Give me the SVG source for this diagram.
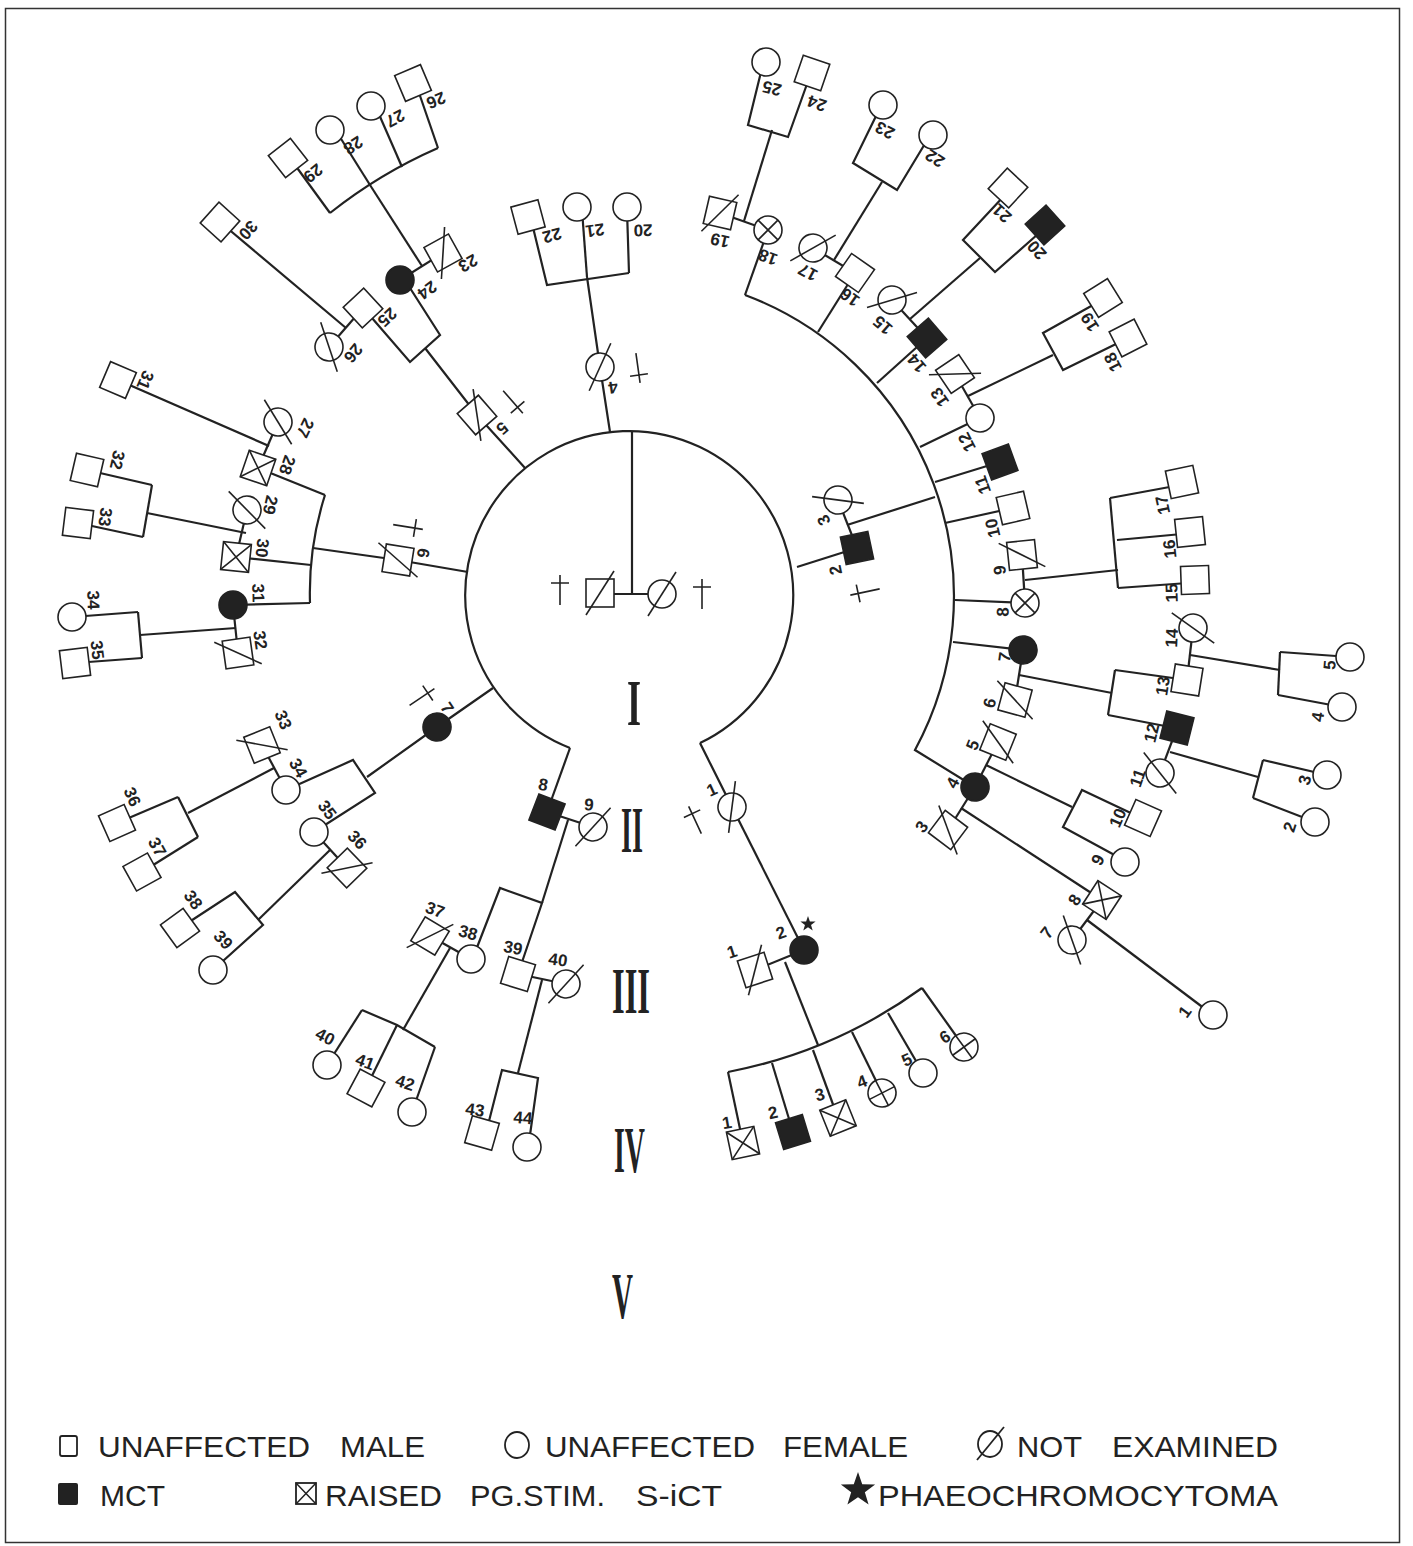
<svg xmlns="http://www.w3.org/2000/svg" xmlns:xlink="http://www.w3.org/1999/xlink" width="1413" height="1546" viewBox="0 0 1413 1546">
<style>
.o{fill:#fff;stroke:#222;stroke-width:1.6}
.f{fill:#222;stroke:#222;stroke-width:1.6}
.m{fill:none;stroke:#222;stroke-width:1.6}
.d{fill:none;stroke:#222;stroke-width:2.2}
.lb{font-family:"Liberation Sans",Arial,sans-serif;font-weight:bold;font-size:17px;fill:#222;text-anchor:middle;dominant-baseline:central}
.rn{font-family:"Liberation Serif","Times New Roman",serif;font-weight:bold;font-size:66px;fill:#222}
.lg{font-family:"Liberation Sans",Arial,sans-serif;font-size:30px;fill:#222}
#connectors path{fill:none;stroke:#222;stroke-width:2.2}
</style>
<defs>
<rect id="sq" x="-14" y="-14" width="28" height="28"/>
<circle id="ci" r="14"/>
<line id="sl" x1="-14" y1="22" x2="14" y2="-22"/>
<path id="sx" d="M-14,-14 L14,14 M14,-14 L-14,14"/>
<path id="cp" d="M-14,0 H14 M0,-14 V14"/>
<path id="dg" d="M0,-15 V15 M-9,-7 H9"/>
<polygon id="star" points="0,-1 0.235,-0.324 0.951,-0.309 0.38,0.124 0.588,0.809 0,0.4 -0.588,0.809 -0.38,0.124 -0.951,-0.309 -0.235,-0.324"/>
</defs>
<rect x="0" y="0" width="1413" height="1546" fill="#fff"/>
<rect x="5.5" y="8.5" width="1394" height="1534" fill="none" stroke="#333" stroke-width="1.5"/>

<g id="connectors">
<path d="M600,594 H662"/>
<path d="M632,594 V432"/>
<path d="M570,748 A164,164 0 1 1 700,743"/>
<path d="M570,748 L547,812"/>
<path d="M700,743 L732,807"/>
<path d="M797,567 L857,548"/>
<path d="M838,500 L857,548"/>
<path d="M847,525 L935,497"/>
<path d="M745,295 A322,322 0 0 1 915,750 L975,787"/>
<path d="M745,295 L768,230"/>
<path d="M818,332 L855,273"/>
<path d="M877,383 L927,338"/>
<path d="M920,447 L980,418"/>
<path d="M935,482 L1000,462"/>
<path d="M945,523 L1013,508"/>
<path d="M955,600 L1025,603"/>
<path d="M953,642 L1023,650"/>
<path d="M720,213 L768,230"/>
<path d="M813,248 L855,273"/>
<path d="M892,300 L927,338"/>
<path d="M955,374 L980,418"/>
<path d="M1022,555 L1025,603"/>
<path d="M1023,650 L1015,700"/>
<path d="M998,742 L975,787"/>
<path d="M975,787 L948,830"/>
<path d="M744,221 L772,130"/>
<path d="M761,72 L748,125 L788,137 L807,84"/>
<path d="M834,260 L882,182"/>
<path d="M878,112 L853,163 L897,190 L926,142"/>
<path d="M910,319 L980,258"/>
<path d="M1004,196 L963,240 L995,272 L1038,234"/>
<path d="M968,396 L1053,355"/>
<path d="M1093,305 L1043,333 L1063,370 L1118,343"/>
<path d="M1025,580 L1118,570"/>
<path d="M1110,498 L1118,588"/>
<path d="M1110,498 L1175,486"/>
<path d="M1117,540 L1182,534"/>
<path d="M1118,588 L1188,583"/>
<path d="M1019,675 L1112,693"/>
<path d="M1115,670 L1108,715"/>
<path d="M1115,670 L1180,679"/>
<path d="M1108,715 L1170,727"/>
<path d="M986,765 L1072,807"/>
<path d="M1135,815 L1082,790 L1063,827 L1120,858"/>
<path d="M961,808 L1102,900"/>
<path d="M1102,900 L1072,940"/>
<path d="M1087,920 L1213,1015"/>
<path d="M1193,628 L1187,680"/>
<path d="M1190,655 L1280,670"/>
<path d="M1280,652 L1278,695"/>
<path d="M1280,652 L1350,657"/>
<path d="M1278,695 L1342,707"/>
<path d="M1177,728 L1160,773"/>
<path d="M1170,752 L1258,777"/>
<path d="M1263,760 L1253,798"/>
<path d="M1263,760 L1327,775"/>
<path d="M1253,798 L1315,822"/>
<path d="M610,432 L600,367 L587,277"/>
<path d="M530,215 L547,285 L629,273"/>
<path d="M582,210 L587,277"/>
<path d="M627,210 L629,273"/>
<path d="M525,468 L477,415 L425,348"/>
<path d="M410,288 L440,335 L410,362 L372,318"/>
<path d="M400,280 L443,253"/>
<path d="M422,266 L370,185"/>
<path d="M330,213 A488,488 0 0 1 438,148"/>
<path d="M295,165 L330,213"/>
<path d="M338,134 L370,185"/>
<path d="M378,112 L402,167"/>
<path d="M418,90 L438,148"/>
<path d="M363,308 L329,347"/>
<path d="M220,222 L346,328"/>
<path d="M468,572 L398,560 L313,548"/>
<path d="M325,495 A322,322 0 0 0 310,603"/>
<path d="M258,468 L325,495"/>
<path d="M236,557 L311,565"/>
<path d="M233,605 L310,603"/>
<path d="M278,422 L258,468"/>
<path d="M118,380 L269,446"/>
<path d="M247,510 L236,557"/>
<path d="M246,533 L147,513"/>
<path d="M152,485 L143,537"/>
<path d="M87,470 L152,485"/>
<path d="M78,523 L143,537"/>
<path d="M233,605 L238,653"/>
<path d="M236,628 L140,635"/>
<path d="M138,612 L142,658"/>
<path d="M72,617 L138,612"/>
<path d="M75,663 L142,658"/>
<path d="M493,688 L437,727 L367,777"/>
<path d="M286,790 L353,760 L375,793 L314,832"/>
<path d="M262,745 L286,790"/>
<path d="M274,768 L188,813"/>
<path d="M178,797 L198,837"/>
<path d="M117,823 L178,797"/>
<path d="M142,872 L198,837"/>
<path d="M314,832 L347,868"/>
<path d="M330,850 L258,920"/>
<path d="M180,928 L235,892 L263,925 L213,970"/>
<path d="M547,812 L593,827"/>
<path d="M568,820 L542,903"/>
<path d="M476,950 L500,888 L542,903 L518,974"/>
<path d="M430,936 L471,959"/>
<path d="M450,948 L403,1030"/>
<path d="M362,1010 L397,1025 L435,1047"/>
<path d="M327,1065 L362,1010"/>
<path d="M366,1088 L397,1025"/>
<path d="M412,1112 L435,1047"/>
<path d="M518,974 L566,984"/>
<path d="M542,980 L518,1073"/>
<path d="M488,1125 L502,1070 L538,1078 L530,1135"/>
<path d="M732,807 L804,950"/>
<path d="M755,970 L804,950"/>
<path d="M785,962 L818,1045"/>
<path d="M728,1072 A487,487 0 0 0 922,988"/>
<path d="M728,1072 L743,1143"/>
<path d="M772,1063 L793,1132"/>
<path d="M813,1050 L838,1118"/>
<path d="M852,1032 L882,1093"/>
<path d="M888,1013 L923,1073"/>
<path d="M922,988 L964,1047"/>
</g>

<g id="gen-I">
<g id="I-1"><g transform="translate(600,593)"><use href="#sq" class="o"/><use href="#sl" class="m"/></g><use href="#dg" class="m" transform="translate(560,590)"/></g>
<g id="I-2"><g transform="translate(662,594)"><use href="#ci" class="o"/><use href="#sl" class="m"/></g><use href="#dg" class="m" transform="translate(702,594)"/></g>
</g>

<g id="gen-II">
<g id="II-1"><g transform="translate(732,807) rotate(-25)"><use href="#ci" class="o"/><use href="#sl" class="m"/></g><use href="#dg" class="m" transform="translate(695,820) rotate(-25)"/><text class="lb" transform="translate(712,790) rotate(-25)">1</text></g>
<g id="II-2"><g transform="translate(857,548) rotate(-102)"><use href="#sq" class="f"/></g><use href="#dg" class="m" transform="translate(865,592) rotate(-102)"/><text class="lb" transform="translate(836,570) rotate(-102)">2</text></g>
<g id="II-3"><g transform="translate(838,500) rotate(-115)"><use href="#ci" class="o"/><use href="#sl" class="m"/></g><text class="lb" transform="translate(824,520) rotate(-115)">3</text></g>
<g id="II-4"><g transform="translate(600,367) rotate(172)"><use href="#ci" class="o"/><use href="#sl" class="m"/></g><use href="#dg" class="m" transform="translate(638,368) rotate(172)"/><text class="lb" transform="translate(613,387) rotate(172)">4</text></g>
<g id="II-5"><g transform="translate(477,415) rotate(139)"><use href="#sq" class="o"/><use href="#sl" class="m"/></g><use href="#dg" class="m" transform="translate(513,402) rotate(139)"/><text class="lb" transform="translate(502,428) rotate(139)">5</text></g>
<g id="II-6"><g transform="translate(398,560) rotate(99)"><use href="#sq" class="o"/><use href="#sl" class="m"/></g><use href="#dg" class="m" transform="translate(408,527) rotate(99)"/><text class="lb" transform="translate(423,553) rotate(99)">6</text></g>
<g id="II-7"><g transform="translate(437,727) rotate(56)"><use href="#ci" class="f"/></g><use href="#dg" class="m" transform="translate(422,697) rotate(56)"/><text class="lb" transform="translate(447,708) rotate(56)">7</text></g>
<g id="II-8"><g transform="translate(547,812) rotate(21)"><use href="#sq" class="f"/></g><text class="lb" transform="translate(543,785) rotate(10)">8</text></g>
<g id="II-9"><g transform="translate(593,827) rotate(10)"><use href="#ci" class="o"/><use href="#sl" class="m"/></g><text class="lb" transform="translate(589,805) rotate(5)">9</text></g>
</g>

<g id="gen-III">
<g id="III-19"><g transform="translate(720,213) rotate(-167)"><use href="#sq" class="o"/><use href="#sl" class="m"/></g><text class="lb" transform="translate(720,240) rotate(-167)">19</text></g>
<g id="III-18"><g transform="translate(768,230)"><use href="#ci" class="o"/><use href="#cp" class="m" transform="rotate(45)"/></g><text class="lb" transform="translate(768,257) rotate(-160)">18</text></g>
<g id="III-17"><g transform="translate(813,248) rotate(-152)"><use href="#ci" class="o"/><use href="#sl" class="m"/></g><text class="lb" transform="translate(808,272) rotate(-152)">17</text></g>
<g id="III-16"><g transform="translate(855,273) rotate(-145)"><use href="#sq" class="o"/></g><text class="lb" transform="translate(850,297) rotate(-145)">16</text></g>
<g id="III-15"><g transform="translate(892,300) rotate(-139)"><use href="#ci" class="o"/><use href="#sl" class="m"/></g><text class="lb" transform="translate(883,325) rotate(-139)">15</text></g>
<g id="III-14"><g transform="translate(927,338) rotate(-131)"><use href="#sq" class="f"/></g><text class="lb" transform="translate(917,363) rotate(-131)">14</text></g>
<g id="III-13"><g transform="translate(955,374) rotate(-124)"><use href="#sq" class="o"/><use href="#sl" class="m"/></g><text class="lb" transform="translate(940,397) rotate(-124)">13</text></g>
<g id="III-12"><g transform="translate(980,418) rotate(-117)"><use href="#ci" class="o"/></g><text class="lb" transform="translate(967,442) rotate(-117)">12</text></g>
<g id="III-11"><g transform="translate(1000,462) rotate(-110)"><use href="#sq" class="f"/></g><text class="lb" transform="translate(983,485) rotate(-110)">11</text></g>
<g id="III-10"><g transform="translate(1013,508) rotate(-103)"><use href="#sq" class="o"/></g><text class="lb" transform="translate(993,528) rotate(-103)">10</text></g>
<g id="III-9"><g transform="translate(1022,555) rotate(-96)"><use href="#sq" class="o"/><use href="#sl" class="m"/></g><text class="lb" transform="translate(1000,570) rotate(-96)">9</text></g>
<g id="III-8"><g transform="translate(1025,603)"><use href="#ci" class="o"/><use href="#cp" class="m" transform="rotate(45)"/></g><text class="lb" transform="translate(1003,612) rotate(-89)">8</text></g>
<g id="III-7"><g transform="translate(1023,650) rotate(-82)"><use href="#ci" class="f"/></g><text class="lb" transform="translate(1005,657) rotate(-82)">7</text></g>
<g id="III-6"><g transform="translate(1015,700) rotate(-75)"><use href="#sq" class="o"/><use href="#sl" class="m"/></g><text class="lb" transform="translate(990,703) rotate(-75)">6</text></g>
<g id="III-5"><g transform="translate(998,742) rotate(-68)"><use href="#sq" class="o"/><use href="#sl" class="m"/></g><text class="lb" transform="translate(973,745) rotate(-68)">5</text></g>
<g id="III-4"><g transform="translate(975,787) rotate(-61)"><use href="#ci" class="f"/></g><text class="lb" transform="translate(953,783) rotate(-61)">4</text></g>
<g id="III-3"><g transform="translate(948,830) rotate(-53)"><use href="#sq" class="o"/><use href="#sl" class="m"/></g><text class="lb" transform="translate(922,827) rotate(-53)">3</text></g>
<g id="III-20"><g transform="translate(627,207)"><use href="#ci" class="o"/></g><text class="lb" transform="translate(643,230) rotate(179)">20</text></g>
<g id="III-21"><g transform="translate(577,207)"><use href="#ci" class="o"/></g><text class="lb" transform="translate(595,230) rotate(172)">21</text></g>
<g id="III-22"><g transform="translate(528,217) rotate(165)"><use href="#sq" class="o"/></g><text class="lb" transform="translate(552,235) rotate(165)">22</text></g>
<g id="III-23"><g transform="translate(443,253) rotate(151)"><use href="#sq" class="o"/><use href="#sl" class="m"/></g><text class="lb" transform="translate(468,263) rotate(151)">23</text></g>
<g id="III-24"><g transform="translate(400,280)"><use href="#ci" class="f"/></g><text class="lb" transform="translate(427,290) rotate(144)">24</text></g>
<g id="III-25"><g transform="translate(363,308) rotate(137)"><use href="#sq" class="o"/></g><text class="lb" transform="translate(387,317) rotate(137)">25</text></g>
<g id="III-26"><g transform="translate(329,347) rotate(129)"><use href="#ci" class="o"/><use href="#sl" class="m"/></g><text class="lb" transform="translate(353,353) rotate(129)">26</text></g>
<g id="III-27"><g transform="translate(278,422) rotate(116)"><use href="#ci" class="o"/><use href="#sl" class="m"/></g><text class="lb" transform="translate(305,428) rotate(116)">27</text></g>
<g id="III-28"><g transform="translate(258,468) rotate(109)"><use href="#sq" class="o"/><use href="#sx" class="m"/></g><text class="lb" transform="translate(287,465) rotate(109)">28</text></g>
<g id="III-29"><g transform="translate(247,510) rotate(103)"><use href="#ci" class="o"/><use href="#sl" class="m"/></g><text class="lb" transform="translate(270,505) rotate(103)">29</text></g>
<g id="III-30"><g transform="translate(236,557) rotate(96)"><use href="#sq" class="o"/><use href="#sx" class="m"/></g><text class="lb" transform="translate(262,548) rotate(96)">30</text></g>
<g id="III-31"><g transform="translate(233,605)"><use href="#ci" class="f"/></g><text class="lb" transform="translate(258,593) rotate(89)">31</text></g>
<g id="III-32"><g transform="translate(238,653) rotate(82)"><use href="#sq" class="o"/><use href="#sl" class="m"/></g><text class="lb" transform="translate(260,640) rotate(82)">32</text></g>
<g id="III-33"><g transform="translate(262,745) rotate(68)"><use href="#sq" class="o"/><use href="#sl" class="m"/></g><text class="lb" transform="translate(283,720) rotate(68)">33</text></g>
<g id="III-34"><g transform="translate(286,790)"><use href="#ci" class="o"/></g><text class="lb" transform="translate(298,768) rotate(61)">34</text></g>
<g id="III-35"><g transform="translate(314,832)"><use href="#ci" class="o"/></g><text class="lb" transform="translate(327,810) rotate(53)">35</text></g>
<g id="III-36"><g transform="translate(347,868) rotate(46)"><use href="#sq" class="o"/><use href="#sl" class="m"/></g><text class="lb" transform="translate(357,840) rotate(46)">36</text></g>
<g id="III-37"><g transform="translate(430,936) rotate(31)"><use href="#sq" class="o"/><use href="#sl" class="m"/></g><text class="lb" transform="translate(435,910) rotate(20)">37</text></g>
<g id="III-38"><g transform="translate(471,959)"><use href="#ci" class="o"/></g><text class="lb" transform="translate(468,933) rotate(15)">38</text></g>
<g id="III-39"><g transform="translate(518,974) rotate(17)"><use href="#sq" class="o"/></g><text class="lb" transform="translate(513,948) rotate(10)">39</text></g>
<g id="III-40"><g transform="translate(566,984) rotate(10)"><use href="#ci" class="o"/><use href="#sl" class="m"/></g><text class="lb" transform="translate(558,960) rotate(8)">40</text></g>
<g id="III-1"><g transform="translate(755,970) rotate(-18)"><use href="#sq" class="o"/><use href="#sl" class="m"/></g><text class="lb" transform="translate(732,952) rotate(-18)">1</text></g>
<g id="III-2"><g transform="translate(804,950)"><use href="#ci" class="f"/></g><use href="#star" fill="#222" transform="translate(808,924) scale(8)"/><text class="lb" transform="translate(781,933) rotate(-20)">2</text></g>
</g>

<g id="gen-IV">
<g id="IV-25"><g transform="translate(766,62)"><use href="#ci" class="o"/></g><text class="lb" transform="translate(772,88) rotate(-166)">25</text></g>
<g id="IV-24"><g transform="translate(812,73) rotate(-161)"><use href="#sq" class="o"/></g><text class="lb" transform="translate(817,103) rotate(-161)">24</text></g>
<g id="IV-23"><g transform="translate(883,105)"><use href="#ci" class="o"/></g><text class="lb" transform="translate(885,130) rotate(-153)">23</text></g>
<g id="IV-22"><g transform="translate(933,135)"><use href="#ci" class="o"/></g><text class="lb" transform="translate(935,158) rotate(-147)">22</text></g>
<g id="IV-21"><g transform="translate(1008,188) rotate(-137)"><use href="#sq" class="o"/></g><text class="lb" transform="translate(1002,213) rotate(-137)">21</text></g>
<g id="IV-20"><g transform="translate(1045,225) rotate(-132)"><use href="#sq" class="f"/></g><text class="lb" transform="translate(1037,250) rotate(-132)">20</text></g>
<g id="IV-19"><g transform="translate(1103,298) rotate(-122)"><use href="#sq" class="o"/></g><text class="lb" transform="translate(1090,322) rotate(-122)">19</text></g>
<g id="IV-18"><g transform="translate(1128,338) rotate(-117)"><use href="#sq" class="o"/></g><text class="lb" transform="translate(1113,362) rotate(-117)">18</text></g>
<g id="IV-17"><g transform="translate(1182,482) rotate(-102)"><use href="#sq" class="o"/></g><text class="lb" transform="translate(1163,505) rotate(-102)">17</text></g>
<g id="IV-16"><g transform="translate(1190,532) rotate(-96)"><use href="#sq" class="o"/></g><text class="lb" transform="translate(1170,549) rotate(-96)">16</text></g>
<g id="IV-15"><g transform="translate(1195,580) rotate(-92)"><use href="#sq" class="o"/></g><text class="lb" transform="translate(1172,593) rotate(-92)">15</text></g>
<g id="IV-14"><g transform="translate(1193,628) rotate(-87)"><use href="#ci" class="o"/><use href="#sl" class="m"/></g><text class="lb" transform="translate(1172,638) rotate(-87)">14</text></g>
<g id="IV-13"><g transform="translate(1187,680) rotate(-81)"><use href="#sq" class="o"/></g><text class="lb" transform="translate(1163,686) rotate(-81)">13</text></g>
<g id="IV-12"><g transform="translate(1177,728) rotate(-76)"><use href="#sq" class="f"/></g><text class="lb" transform="translate(1152,733) rotate(-76)">12</text></g>
<g id="IV-11"><g transform="translate(1160,773) rotate(-71)"><use href="#ci" class="o"/><use href="#sl" class="m"/></g><text class="lb" transform="translate(1138,778) rotate(-71)">11</text></g>
<g id="IV-10"><g transform="translate(1143,818) rotate(-66)"><use href="#sq" class="o"/></g><text class="lb" transform="translate(1118,818) rotate(-66)">10</text></g>
<g id="IV-9"><g transform="translate(1125,862)"><use href="#ci" class="o"/></g><text class="lb" transform="translate(1098,860) rotate(-62)">9</text></g>
<g id="IV-8"><g transform="translate(1102,900) rotate(-57)"><use href="#sq" class="o"/><use href="#sx" class="m"/></g><text class="lb" transform="translate(1075,900) rotate(-57)">8</text></g>
<g id="IV-7"><g transform="translate(1072,940) rotate(-52)"><use href="#ci" class="o"/><use href="#sl" class="m"/></g><text class="lb" transform="translate(1047,933) rotate(-52)">7</text></g>
<g id="IV-26"><g transform="translate(413,83) rotate(157)"><use href="#sq" class="o"/></g><text class="lb" transform="translate(436,100) rotate(157)">26</text></g>
<g id="IV-27"><g transform="translate(371,106)"><use href="#ci" class="o"/></g><text class="lb" transform="translate(395,118) rotate(152)">27</text></g>
<g id="IV-28"><g transform="translate(330,130)"><use href="#ci" class="o"/></g><text class="lb" transform="translate(353,145) rotate(147)">28</text></g>
<g id="IV-29"><g transform="translate(288,158) rotate(142)"><use href="#sq" class="o"/></g><text class="lb" transform="translate(313,173) rotate(142)">29</text></g>
<g id="IV-30"><g transform="translate(220,222) rotate(132)"><use href="#sq" class="o"/></g><text class="lb" transform="translate(248,230) rotate(132)">30</text></g>
<g id="IV-31"><g transform="translate(118,380) rotate(113)"><use href="#sq" class="o"/></g><text class="lb" transform="translate(145,380) rotate(113)">31</text></g>
<g id="IV-32"><g transform="translate(87,470) rotate(103)"><use href="#sq" class="o"/></g><text class="lb" transform="translate(117,460) rotate(103)">32</text></g>
<g id="IV-33"><g transform="translate(78,523) rotate(97)"><use href="#sq" class="o"/></g><text class="lb" transform="translate(105,517) rotate(97)">33</text></g>
<g id="IV-34"><g transform="translate(72,617)"><use href="#ci" class="o"/></g><text class="lb" transform="translate(93,600) rotate(88)">34</text></g>
<g id="IV-35"><g transform="translate(75,663) rotate(83)"><use href="#sq" class="o"/></g><text class="lb" transform="translate(97,650) rotate(83)">35</text></g>
<g id="IV-36"><g transform="translate(117,823) rotate(66)"><use href="#sq" class="o"/></g><text class="lb" transform="translate(132,797) rotate(66)">36</text></g>
<g id="IV-37"><g transform="translate(142,872) rotate(61)"><use href="#sq" class="o"/></g><text class="lb" transform="translate(157,847) rotate(61)">37</text></g>
<g id="IV-38"><g transform="translate(180,928) rotate(54)"><use href="#sq" class="o"/></g><text class="lb" transform="translate(193,900) rotate(54)">38</text></g>
<g id="IV-39"><g transform="translate(213,970)"><use href="#ci" class="o"/></g><text class="lb" transform="translate(223,940) rotate(48)">39</text></g>
<g id="IV-40"><g transform="translate(327,1065)"><use href="#ci" class="o"/></g><text class="lb" transform="translate(325,1037) rotate(28)">40</text></g>
<g id="IV-41"><g transform="translate(366,1088) rotate(28)"><use href="#sq" class="o"/></g><text class="lb" transform="translate(365,1062) rotate(20)">41</text></g>
<g id="IV-42"><g transform="translate(412,1112)"><use href="#ci" class="o"/></g><text class="lb" transform="translate(405,1083) rotate(18)">42</text></g>
<g id="IV-43"><g transform="translate(482,1133) rotate(16)"><use href="#sq" class="o"/></g><text class="lb" transform="translate(475,1110) rotate(8)">43</text></g>
<g id="IV-44"><g transform="translate(527,1147)"><use href="#ci" class="o"/></g><text class="lb" transform="translate(523,1118) rotate(5)">44</text></g>
<g id="IV-1"><g transform="translate(743,1143) rotate(-12)"><use href="#sq" class="o"/><use href="#sx" class="m"/></g><text class="lb" transform="translate(727,1123) rotate(-10)">1</text></g>
<g id="IV-2"><g transform="translate(793,1132) rotate(-17)"><use href="#sq" class="f"/></g><text class="lb" transform="translate(773,1113) rotate(-12)">2</text></g>
<g id="IV-3"><g transform="translate(838,1118) rotate(-22)"><use href="#sq" class="o"/><use href="#sx" class="m"/></g><text class="lb" transform="translate(820,1095) rotate(-15)">3</text></g>
<g id="IV-4"><g transform="translate(882,1093) rotate(-27)"><use href="#ci" class="o"/><use href="#cp" class="m"/></g><text class="lb" transform="translate(862,1082) rotate(-20)">4</text></g>
<g id="IV-5"><g transform="translate(923,1073)"><use href="#ci" class="o"/></g><text class="lb" transform="translate(907,1060) rotate(-25)">5</text></g>
<g id="IV-6"><g transform="translate(964,1047) rotate(-36)"><use href="#ci" class="o"/><use href="#cp" class="m"/></g><text class="lb" transform="translate(945,1037) rotate(-30)">6</text></g>
</g>

<g id="gen-V">
<g id="V-1"><g transform="translate(1213,1015)"><use href="#ci" class="o"/></g><text class="lb" transform="translate(1185,1012) rotate(-54)">1</text></g>
<g id="V-2"><g transform="translate(1315,822)"><use href="#ci" class="o"/></g><text class="lb" transform="translate(1290,827) rotate(-72)">2</text></g>
<g id="V-3"><g transform="translate(1327,775)"><use href="#ci" class="o"/></g><text class="lb" transform="translate(1305,780) rotate(-76)">3</text></g>
<g id="V-4"><g transform="translate(1342,707)"><use href="#ci" class="o"/></g><text class="lb" transform="translate(1318,717) rotate(-81)">4</text></g>
<g id="V-5"><g transform="translate(1350,657)"><use href="#ci" class="o"/></g><text class="lb" transform="translate(1330,665) rotate(-85)">5</text></g>
</g>

<g id="generation-labels">
<text class="rn" x="627" y="725" textLength="14" lengthAdjust="spacingAndGlyphs">I</text>
<text class="rn" x="621" y="852" textLength="22" lengthAdjust="spacingAndGlyphs">II</text>
<text class="rn" x="612" y="1013" textLength="38" lengthAdjust="spacingAndGlyphs">III</text>
<text class="rn" x="614" y="1172" textLength="31" lengthAdjust="spacingAndGlyphs">IV</text>
<text class="rn" x="612" y="1318" textLength="21" lengthAdjust="spacingAndGlyphs">V</text>
</g>

<g id="legend">
<rect x="60" y="1436" width="17" height="20" rx="2" fill="none" stroke="#222" stroke-width="1.8"/>
<text class="lg" y="1457"><tspan x="98" textLength="212" lengthAdjust="spacingAndGlyphs">UNAFFECTED</tspan><tspan x="340" textLength="85" lengthAdjust="spacingAndGlyphs">MALE</tspan></text>
<ellipse cx="517" cy="1445" rx="12" ry="13" fill="none" stroke="#222" stroke-width="1.8"/>
<text class="lg" y="1457"><tspan x="545" textLength="210" lengthAdjust="spacingAndGlyphs">UNAFFECTED</tspan><tspan x="783" textLength="125" lengthAdjust="spacingAndGlyphs">FEMALE</tspan></text>
<ellipse cx="990" cy="1444" rx="12" ry="13" fill="none" stroke="#222" stroke-width="1.8"/>
<line x1="977" y1="1460" x2="1004" y2="1427" stroke="#222" stroke-width="1.8"/>
<text class="lg" y="1457"><tspan x="1017" textLength="65" lengthAdjust="spacingAndGlyphs">NOT</tspan><tspan x="1112" textLength="166" lengthAdjust="spacingAndGlyphs">EXAMINED</tspan></text>
<rect x="58" y="1483" width="20" height="22" rx="2" fill="#222"/>
<text class="lg" x="100" y="1506" textLength="65" lengthAdjust="spacingAndGlyphs">MCT</text>
<rect x="296" y="1483" width="20" height="21" fill="none" stroke="#222" stroke-width="1.8"/>
<path d="M296,1483 L316,1504 M316,1483 L296,1504" fill="none" stroke="#222" stroke-width="1.5"/>
<text class="lg" y="1506"><tspan x="325" textLength="117" lengthAdjust="spacingAndGlyphs">RAISED</tspan><tspan x="470" textLength="135" lengthAdjust="spacingAndGlyphs">PG.STIM.</tspan><tspan x="636" textLength="86" lengthAdjust="spacingAndGlyphs">S-iCT</tspan></text>
<use href="#star" fill="#222" transform="translate(858,1490) scale(18)"/>
<text class="lg" x="878" y="1506" textLength="400" lengthAdjust="spacingAndGlyphs">PHAEOCHROMOCYTOMA</text>
</g>
</svg>
